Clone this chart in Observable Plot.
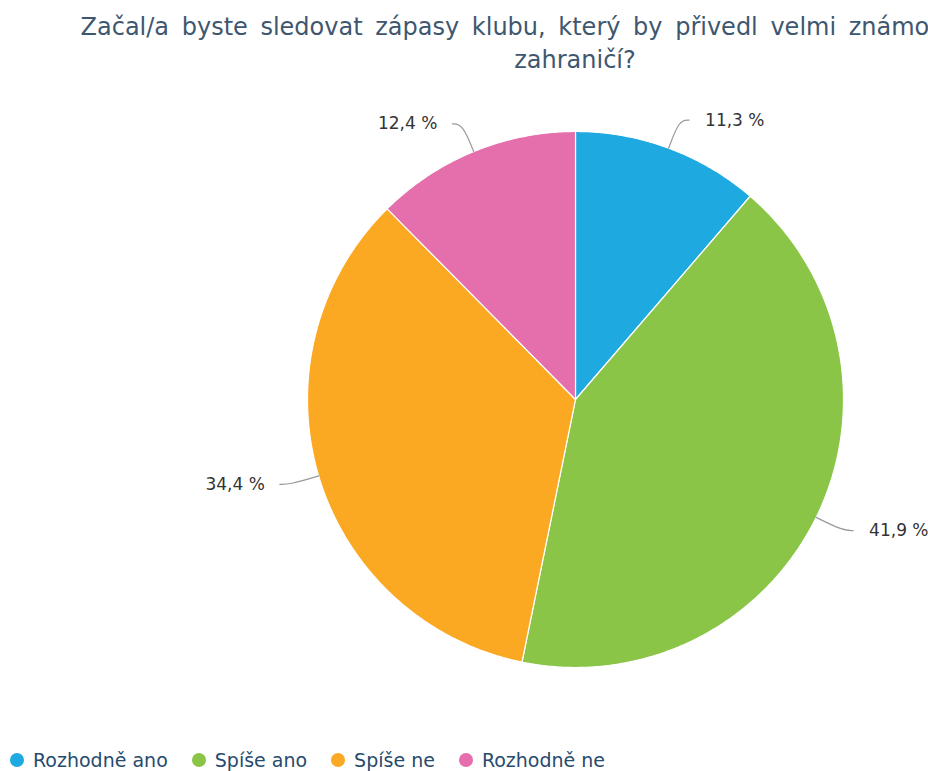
<!DOCTYPE html>
<html>
<head>
<meta charset="utf-8">
<script src="https://cdn.jsdelivr.net/npm/d3@7"></script>
<script src="https://cdn.jsdelivr.net/npm/@observablehq/plot@0.6"></script>
<style>
  html, body { margin: 0; padding: 0; background: #fff; overflow: hidden; width: 928px; height: 771px; }
  body { font-family: "DejaVu Sans", sans-serif; position: relative; }
  #title { position: absolute; left: 0; top: 0; width: 1150px; height: 84px; text-align: center;
           font-size: 24px; line-height: 33px; word-spacing: 5px; color: #3e576f; padding-top: 11px; box-sizing: border-box; white-space: nowrap; }
  #chart { position: absolute; left: 0; top: 84px; }
  #legend { position: absolute; left: 10px; top: 749px; display: flex; font-size: 19px; line-height: 22px; color: #274b6d; white-space: nowrap; }
  .item { display: flex; align-items: center; margin-right: 24px; }
  .dot { width: 14px; height: 14px; border-radius: 50%; margin-right: 9px; }
</style>
</head>
<body>
<div id="title"></div>
<div id="chart"></div>
<div id="legend"></div>
<script>
const titleLines = ["Začal/a byste sledovat zápasy klubu, který by přivedl velmi známou osobu ze", "zahraničí?"];
const categories = ["Rozhodně ano", "Spíše ano", "Spíše ne", "Rozhodně ne"];
const values = [11.3, 41.9, 34.4, 12.4];
const colors = ["#1fa9e1", "#8bc547", "#fba823", "#e56eac"];

// layout
const W = 928, H = 660;
const cx = 575, cy = 315, R = 268;

document.getElementById("title").innerHTML = titleLines.join("<br>");

const total = d3.sum(values);
let acc = 0;
const slices = categories.map((name, i) => {
  const a0 = acc / total * 2 * Math.PI;
  acc += values[i];
  const a1 = acc / total * 2 * Math.PI;
  return {name, value: values[i], a0, a1, mid: (a0 + a1) / 2};
});

const polar = (r, a) => ({x: r * Math.sin(a), y: -r * Math.cos(a)});

const wedgePts = [];
for (const s of slices) {
  wedgePts.push({name: s.name, ...polar(0, 0)});
  const n = Math.max(2, Math.ceil((s.a1 - s.a0) / (Math.PI / 360)));
  for (let k = 0; k <= n; k++) {
    const a = s.a0 + (s.a1 - s.a0) * k / n;
    wedgePts.push({name: s.name, ...polar(R, a)});
  }
  wedgePts.push({name: s.name, ...polar(0, 0)});
}

const connPts = [];
const labels = [];
for (const s of slices) {
  const right = Math.sin(s.mid) >= 0;
  const e = polar(R, s.mid);
  const b = polar(R + 30, s.mid);
  const h = {x: b.x + (right ? 10 : -10), y: b.y};
  connPts.push({name: s.name, ...e}, {name: s.name, ...b}, {name: s.name, ...h});
  labels.push({name: s.name, x: h.x + (right ? 16 : -15), y: b.y,
               text: s.value.toFixed(1).replace(".", ",") + " %", anchor: right ? "start" : "end"});
}

const plot = Plot.plot({
  width: W, height: H, margin: 0,
  x: {domain: [-cx, W - cx], range: [0, W], axis: null},
  y: {domain: [-cy, H - cy], range: [0, H], axis: null},
  color: {domain: categories, range: colors},
  style: {fontFamily: "DejaVu Sans, sans-serif"},
  marks: [
    Plot.line(wedgePts, {x: "x", y: "y", z: "name", fill: "name", stroke: "#ffffff", strokeWidth: 1.2, strokeLinejoin: "round"}),
    Plot.line(connPts, {x: "x", y: "y", z: "name", stroke: "#999999", strokeWidth: 1.2, curve: "basis"}),
    Plot.text(labels.filter(d => d.anchor === "start"), {x: "x", y: "y", text: "text", textAnchor: "start", fontSize: 17, fill: "#333333"}),
    Plot.text(labels.filter(d => d.anchor === "end"), {x: "x", y: "y", text: "text", textAnchor: "end", fontSize: 17, fill: "#333333"})
  ]
});
document.getElementById("chart").appendChild(plot);

const legend = document.getElementById("legend");
categories.forEach((c, i) => {
  const it = document.createElement("div");
  it.className = "item";
  it.innerHTML = `<span class="dot" style="background:${colors[i]}"></span><span>${c}</span>`;
  legend.appendChild(it);
});
</script>
</body>
</html>
